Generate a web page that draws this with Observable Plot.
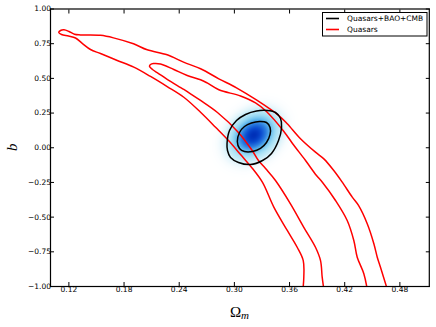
<!DOCTYPE html>
<html><head><meta charset="utf-8">
<script src="https://cdn.jsdelivr.net/npm/d3@7"></script>
<script src="https://cdn.jsdelivr.net/npm/@observablehq/plot@0.6"></script>
<style>
body{margin:0;background:#fff;}
#chart{position:relative;width:436px;height:327px;}
</style></head><body><div id="chart"></div>
<script>
// ---- data ----
const xTicks = [0.12, 0.18, 0.24, 0.30, 0.36, 0.42, 0.48];
const yTicks = [-1.00, -0.75, -0.50, -0.25, 0.00, 0.25, 0.50, 0.75, 1.00];
const xDomain = [0.10, 0.512];
const yDomain = [-1, 1];

// Quasars 2-sigma contour (outer), traced from bottom-left, round the tip, to bottom-right
const quasarOuterX = [0.3746,0.3755,0.3749,0.3683,0.3575,0.3429,0.3306,0.3197,0.3067,0.2936,0.2795,0.2632,0.2450,0.2269,0.2088,0.1906,0.1726,0.1544,0.1435,0.1348,0.1272,0.1196,0.1120,0.1090,0.1109,0.1147,0.1201,0.1261,0.1326,0.1544,0.1685,0.1903,0.2052,0.2269,0.2447,0.2632,0.2831,0.3023,0.3248,0.3483,0.3575,0.3719,0.3882,0.3973,0.4081,0.4173,0.4282,0.4350,0.4445,0.4517,0.4554,0.4589,0.4663];
const quasarOuterY = [-1.02,-0.933,-0.813,-0.717,-0.596,-0.428,-0.250,-0.150,-0.049,0.052,0.148,0.256,0.364,0.441,0.514,0.581,0.629,0.679,0.708,0.751,0.791,0.805,0.816,0.831,0.845,0.850,0.838,0.818,0.813,0.810,0.792,0.749,0.706,0.670,0.617,0.569,0.497,0.432,0.341,0.232,0.173,0.065,-0.032,-0.080,-0.164,-0.248,-0.356,-0.416,-0.548,-0.692,-0.789,-0.861,-1.02];

// Quasars 1-sigma contour (inner)
const quasarInnerX = [0.3973,0.3955,0.3937,0.3882,0.3755,0.3610,0.3447,0.3339,0.3262,0.3194,0.3039,0.2816,0.2632,0.2523,0.2450,0.2269,0.2175,0.2109,0.2077,0.2088,0.2120,0.2196,0.2341,0.2487,0.2632,0.2704,0.2831,0.3067,0.3230,0.3349,0.3534,0.3632,0.3774,0.3893,0.3959,0.4100,0.4227,0.4299,0.4336,0.4408,0.4445];
const quasarInnerY = [-1.02,-0.933,-0.813,-0.717,-0.573,-0.404,-0.236,-0.150,-0.092,-0.020,0.114,0.254,0.341,0.389,0.420,0.493,0.535,0.564,0.586,0.600,0.607,0.604,0.564,0.521,0.490,0.467,0.418,0.373,0.323,0.261,0.121,0.031,-0.092,-0.200,-0.250,-0.380,-0.524,-0.668,-0.789,-0.908,-1.02];

// Quasars+BAO+CMB contours (closed)
const jointOuterX = [0.2920,0.2947,0.3023,0.3121,0.3241,0.3360,0.3447,0.3502,0.3513,0.3480,0.3404,0.3306,0.3175,0.3045,0.2958,0.2925];
const jointOuterY = [0.031,0.124,0.196,0.240,0.265,0.268,0.254,0.211,0.146,0.052,-0.041,-0.092,-0.121,-0.106,-0.070,-0.020];
const jointInnerX = [0.3032,0.3056,0.3110,0.3186,0.3273,0.3349,0.3388,0.3388,0.3349,0.3284,0.3197,0.3110,0.3056];
const jointInnerY = [0.045,0.110,0.153,0.178,0.189,0.182,0.146,0.096,0.038,-0.005,-0.027,-0.027,-0.005];

// Quasars+BAO+CMB posterior (Gaussian estimate)
const densityCenter = [0.321, 0.09];
const densitySigma = [0.012, 0.075];
const densityRho = 0.25;
const densityStops  = [0, 0.01, 0.05, 0.15, 0.32, 0.55, 0.8, 1];
const densityColors = ["#ffffff","#eef9fd","#c4ecf8","#9ddcf4","#5fb8ec","#2a7ce0","#0b4ccf","#0030b8"];

const legendLabels = ["Quasars+BAO+CMB", "Quasars"];
const legendColors = ["#000000", "#ff0000"];

// ---- build ----
const zip = (xs, ys) => xs.map((x, i) => ({x, y: ys[i]}));
function density(x, y) {
  const dx = (x - densityCenter[0]) / densitySigma[0];
  const dy = (y - densityCenter[1]) / densitySigma[1];
  const q = (dx*dx - 2*densityRho*dx*dy + dy*dy) / (1 - densityRho*densityRho);
  return Math.exp(-q/2);
}

const fmt = d3.format(".2f");
const chart = Plot.plot({
  width: 436, height: 327,
  marginLeft: 50, marginRight: 7.2, marginTop: 8.5, marginBottom: 41,
  style: {fontFamily: "'DejaVu Sans', sans-serif", fontSize: "7.5px", color: "#000", background: "#fff"},
  x: {domain: xDomain, label: null},
  y: {domain: yDomain, label: null},
  color: {type: "linear", domain: densityStops, range: densityColors, clamp: true},
  marks: [
    Plot.raster({fill: density, x1: xDomain[0], x2: xDomain[1], y1: yDomain[0], y2: yDomain[1], pixelSize: 1}),
    Plot.line(zip(quasarOuterX, quasarOuterY), {x: "x", y: "y", stroke: legendColors[1], strokeWidth: 1.5, curve: "catmull-rom", clip: true}),
    Plot.line(zip(quasarInnerX, quasarInnerY), {x: "x", y: "y", stroke: legendColors[1], strokeWidth: 1.5, curve: "catmull-rom", clip: true}),
    Plot.line(zip(jointOuterX, jointOuterY), {x: "x", y: "y", stroke: legendColors[0], strokeWidth: 1.5, curve: "catmull-rom-closed"}),
    Plot.line(zip(jointInnerX, jointInnerY), {x: "x", y: "y", stroke: legendColors[0], strokeWidth: 1.5, curve: "catmull-rom-closed"}),
    Plot.axisX(xTicks, {anchor: "bottom", tickSize: -4, tickPadding: 4, tickFormat: fmt, label: null}),
    Plot.axisX(xTicks, {anchor: "top", tickSize: -4, tickFormat: () => "", label: null}),
    Plot.axisY(yTicks, {anchor: "left", tickSize: -4, tickPadding: 3.5, tickFormat: fmt, label: null}),
    Plot.axisY(yTicks, {anchor: "right", tickSize: -4, tickFormat: () => "", label: null}),
    Plot.frame({stroke: "#000", strokeWidth: 1.2})
  ]
});
document.getElementById("chart").appendChild(chart);

const svg = d3.select(chart);
// axis titles
svg.append("text").attr("transform", "translate(16.5,147.3) rotate(-90)")
  .attr("text-anchor", "middle").attr("font-family", "'Liberation Serif', serif")
  .attr("font-style", "italic").attr("font-size", 15).attr("fill", "#000").text("b");
const xl = svg.append("text").attr("x", 239.5).attr("y", 316.5).attr("text-anchor", "middle")
  .attr("font-family", "'Liberation Serif', serif").attr("font-size", 15).attr("fill", "#000");
xl.append("tspan").text("Ω");
xl.append("tspan").attr("font-style", "italic").attr("font-size", 11).attr("dy", 2).text("m");

// legend
const lg = svg.append("g").attr("text-anchor", "start");
lg.append("rect").attr("x", 322.5).attr("y", 12.5).attr("width", 104.5).attr("height", 23.5)
  .attr("fill", "#fff").attr("stroke", "#000").attr("stroke-width", 1);
legendLabels.forEach((t, i) => {
  const yy = 18.5 + i * 11;
  lg.append("line").attr("x1", 326).attr("x2", 339).attr("y1", yy).attr("y2", yy)
    .attr("stroke", legendColors[i]).attr("stroke-width", 1.6);
  lg.append("text").attr("x", 347).attr("y", yy).attr("dy", "0.35em").attr("text-anchor", "start")
    .attr("font-family", "'DejaVu Sans', sans-serif").attr("font-size", 7.5).attr("fill", "#000").text(t);
});
</script></body></html>
